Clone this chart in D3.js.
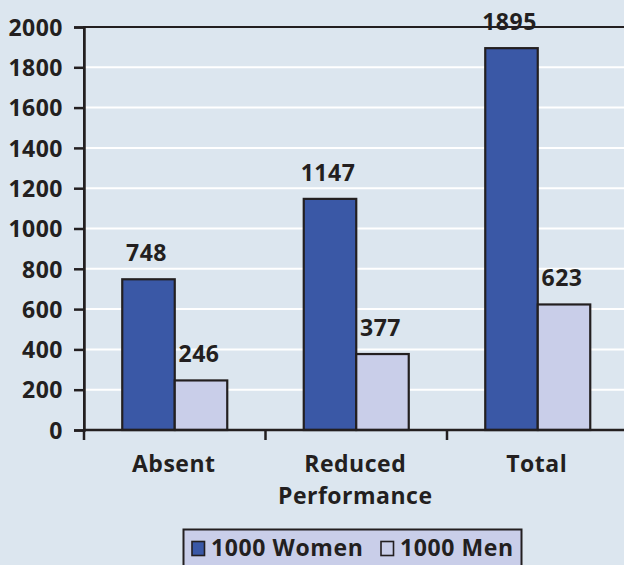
<!DOCTYPE html>
<html>
<head>
<meta charset="utf-8">
<script src="https://cdn.jsdelivr.net/npm/d3@7"></script>
<style>
  html, body { margin: 0; padding: 0; background: #dce6ef; }
  svg text { font-family: "Open Sans", "DejaVu Sans", sans-serif; font-weight: 700; fill: #231f20; }
</style>
</head>
<body>
<svg id="chart" width="624" height="565"></svg>
<script>
var categories = [["Absent"], ["Reduced", "Performance"], ["Total"]];
var seriesNames = ["1000 Women", "1000 Men"];
var women = [748, 1147, 1895];
var men = [246, 377, 623];
var yTicks = [0, 200, 400, 600, 800, 1000, 1200, 1400, 1600, 1800, 2000];

var colors = ["#3a58a6", "#c9cee9"];
var ink = "#231f20";

var svg = d3.select("#chart");

// note: "top" is taken by window.top, so use plot* names
var plotL = 84, plotR = 628.5, plotT = 27, plotB = 430;

var x = d3.scaleBand()
    .domain(d3.range(categories.length))
    .range([plotL, plotR])
    .paddingInner(0)
    .paddingOuter(0);

// the two bars sit in the middle of each band
var groupPad = (x.bandwidth() - 105) / 2;
var xs = d3.scaleBand()
    .domain(d3.range(seriesNames.length))
    .range([groupPad, x.bandwidth() - groupPad]);

var y = d3.scaleLinear()
    .domain([0, 2000])
    .range([plotB, plotT]);

svg.append("rect")
    .attr("width", 624).attr("height", 565)
    .attr("fill", "#dce6ef");

// gridlines
svg.append("g")
    .selectAll("line")
    .data(yTicks.filter(d => d > 0 && d < 2000))
  .enter().append("line")
    .attr("x1", plotL).attr("x2", plotR)
    .attr("y1", d => y(d)).attr("y2", d => y(d))
    .attr("stroke", "#fff")
    .attr("stroke-width", 2);

// plot area border (top / right)
svg.append("rect")
    .attr("x", plotL).attr("y", plotT)
    .attr("width", plotR - plotL).attr("height", plotB - plotT)
    .attr("fill", "none")
    .attr("stroke", ink)
    .attr("stroke-width", 2);

var rows = categories.map(function(c, i) { return [women[i], men[i]]; });

var group = svg.append("g")
    .selectAll("g")
    .data(rows)
  .enter().append("g")
    .attr("transform", function(d, i) { return "translate(" + x(i) + ",0)"; });

group.selectAll("rect")
    .data(d => d)
  .enter().append("rect")
    .attr("x", (d, j) => xs(j))
    .attr("y", d => y(d))
    .attr("width", xs.bandwidth())
    .attr("height", d => plotB - y(d))
    .attr("fill", (d, j) => colors[j])
    .attr("stroke", ink)
    .attr("stroke-width", 2.2);

group.selectAll("text.value")
    .data(d => d)
  .enter().append("text")
    .attr("class", "value")
    .attr("x", (d, j) => xs(j) + xs.bandwidth() / 2 - 2)
    .attr("y", d => y(d) - 18)
    .attr("text-anchor", "middle")
    .style("font-size", "23px")
    .style("letter-spacing", "0.5px")
    .text(d => d);

// y axis
var yAxis = svg.append("g")
    .attr("transform", "translate(" + plotL + ",0)")
    .call(d3.axisLeft(y).tickValues(yTicks).tickFormat(d3.format("d")).tickSize(10).tickPadding(11));
yAxis.select(".domain").attr("stroke", ink).attr("stroke-width", 2.5);
yAxis.selectAll(".tick line").attr("stroke", ink).attr("stroke-width", 2.5);
yAxis.selectAll(".tick text")
    .attr("fill", ink)
    .attr("dy", "0.36em")
    .style("font-size", "23px")
    .style("letter-spacing", "0.5px");
yAxis.attr("font-family", null).attr("font-size", null);

// x axis
svg.append("line")
    .attr("x1", plotL).attr("x2", plotR)
    .attr("y1", plotB).attr("y2", plotB)
    .attr("stroke", ink).attr("stroke-width", 2.5);

svg.append("g")
    .selectAll("line")
    .data(d3.range(categories.length + 1))
  .enter().append("line")
    .attr("x1", i => plotL + i * x.step()).attr("x2", i => plotL + i * x.step())
    .attr("y1", plotB).attr("y2", plotB + 10)
    .attr("stroke", ink).attr("stroke-width", 2.5);

var label = svg.append("g")
    .selectAll("text")
    .data(categories)
  .enter().append("text")
    .attr("text-anchor", "middle")
    .attr("x", (d, i) => x(i) + x.bandwidth() / 2 - 1)
    .attr("y", 472)
    .style("font-size", "23px")
    .style("letter-spacing", "0.5px");

label.selectAll("tspan")
    .data(d => d)
  .enter().append("tspan")
    .attr("x", function() { return d3.select(this.parentNode).attr("x"); })
    .attr("dy", (d, k) => k === 0 ? 0 : 32)
    .text(d => d);

// legend
var legend = svg.append("g");
legend.append("rect")
    .attr("x", 183.5).attr("y", 529.5)
    .attr("width", 338).attr("height", 50)
    .attr("fill", "#c9cee9")
    .attr("stroke", ink)
    .attr("stroke-width", 2);

var legendX = [192, 381];
var item = legend.selectAll("g")
    .data(seriesNames)
  .enter().append("g")
    .attr("transform", (d, i) => "translate(" + legendX[i] + ",0)");

item.append("rect")
    .attr("x", 0).attr("y", 541.5)
    .attr("width", 12.5).attr("height", 14)
    .attr("fill", (d, i) => colors[i])
    .attr("stroke", ink)
    .attr("stroke-width", 1.6);

item.append("text")
    .attr("x", 19).attr("y", 556)
    .style("font-size", "23px")
    .style("letter-spacing", "0.6px")
    .text(d => d);
</script>
</body>
</html>
